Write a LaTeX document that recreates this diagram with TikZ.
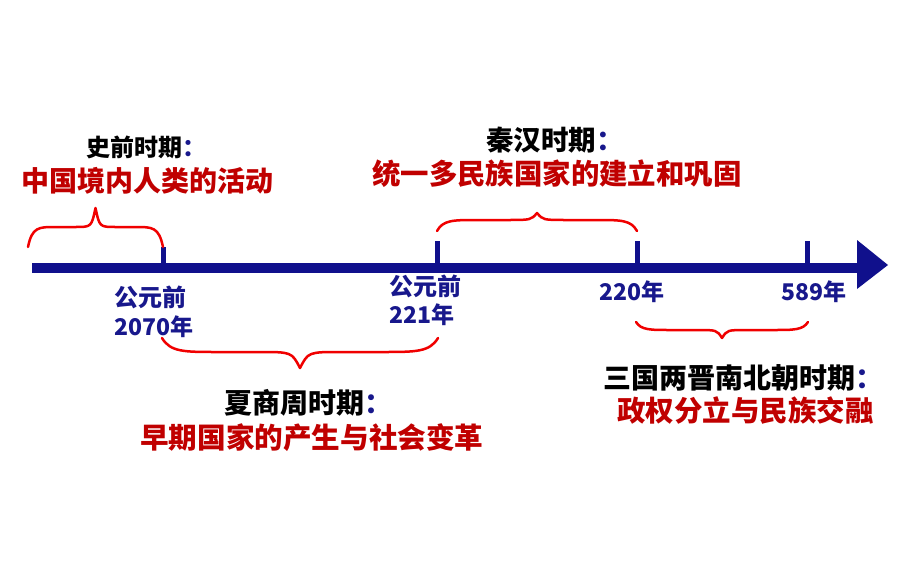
\documentclass[tikz,border=0pt]{standalone}
\usepackage{fontspec}
\newfontfamily\cjk{Noto Sans CJK SC}
\definecolor{axisblue}{RGB}{16,16,140}
\definecolor{txtblue}{RGB}{24,24,140}
\definecolor{txtred}{RGB}{192,0,0}
\definecolor{bracered}{RGB}{240,0,0}
\tikzset{
  lbl/.style={anchor=west,inner sep=0pt,font=\cjk\bfseries,text height=0.88em,text depth=0.12em},
  ttl/.style={lbl,text=black},
  red/.style={lbl,text=txtred},
  yr/.style={lbl,text=txtblue},
  bracestyle/.style={draw=bracered,line width=2.5pt,line cap=round,line join=round},
}
\newcommand\mybrace[5]{%
  \pgfmathsetmacro\bL{#2-#1}%
  \pgfmathsetmacro\bm{(#1+#2)/2}%
  \draw[bracestyle] (#1,#3) .. controls (#1+0.03*\bL,#4) and (#1+0.08*\bL,#4) .. (#1+0.2*\bL,#4)
    -- (\bm-0.15*\bL,#4) .. controls (\bm-0.03*\bL,#4) .. (\bm,#5)
    .. controls (\bm+0.03*\bL,#4) .. (\bm+0.15*\bL,#4)
    -- (#2-0.2*\bL,#4) .. controls (#2-0.08*\bL,#4) and (#2-0.03*\bL,#4) .. (#2,#3);
}
\begin{document}
\begin{tikzpicture}[x=1pt,y=-1pt]
\useasboundingbox (0,0) rectangle (920,575);
% axis
\draw[line width=10pt,axisblue] (32,268) -- (860,268);
\fill[axisblue] (857,240) -- (888,265) -- (857,289) -- cycle;
% ticks
\fill[axisblue] (160.5,247) rectangle (165.5,266);
\fill[axisblue] (434.5,241) rectangle (439.5,264);
\fill[axisblue] (634.5,241) rectangle (639.5,264);
\fill[axisblue] (804.5,241) rectangle (809.5,264);
% braces
\mybrace{28}{163}{247}{227}{208}
\mybrace{437}{637}{231}{220}{213}
\mybrace{162}{438}{338}{352}{368}
\mybrace{636}{808}{322}{330}{338}
% top labels
\node[ttl,font=\cjk\bfseries\fontsize{24}{24}\selectfont] (t1) at (86,153) {史前时期\textcolor{txtblue}{：}};
\node[red,font=\cjk\bfseries\fontsize{28}{28}\selectfont] (r1) at (21,188) {中国境内人类的活动};
\node[ttl,font=\cjk\bfseries\fontsize{27.5}{27.5}\selectfont] (t2) at (486,147) {秦汉时期\textcolor{txtblue}{：}};
\node[red,font=\cjk\bfseries\fontsize{28.4}{28.4}\selectfont] (r2) at (372,181) {统一多民族国家的建立和巩固};
% years
\node[yr,font=\cjk\bfseries\fontsize{24}{24}\selectfont] (y1a) at (114,303) {公元前};
\node[yr,font=\cjk\bfseries\fontsize{23}{23}\selectfont] (y1b) at (114,332) {2070年};
\node[yr,font=\cjk\bfseries\fontsize{24}{24}\selectfont] (y2a) at (389,292) {公元前};
\node[yr,font=\cjk\bfseries\fontsize{23}{23}\selectfont] (y2b) at (389,320) {221年};
\node[yr,font=\cjk\bfseries\fontsize{23}{23}\selectfont] (y3) at (599,297) {220年};
\node[yr,font=\cjk\bfseries\fontsize{23}{23}\selectfont] (y4) at (781,297) {589年};
% bottom labels
\node[ttl,font=\cjk\bfseries\fontsize{28}{28}\selectfont] (t3) at (224,410) {夏商周时期\textcolor{txtblue}{：}};
\node[red,font=\cjk\bfseries\fontsize{28.6}{28.6}\selectfont] (r3) at (140,445) {早期国家的产生与社会变革};
\node[ttl,font=\cjk\bfseries\fontsize{28}{28}\selectfont] (t4) at (603,385) {三国两晋南北朝时期\textcolor{txtblue}{：}};
\node[red,font=\cjk\bfseries\fontsize{28.5}{28.5}\selectfont] (r4) at (617,418) {政权分立与民族交融};
\end{tikzpicture}
\end{document}
